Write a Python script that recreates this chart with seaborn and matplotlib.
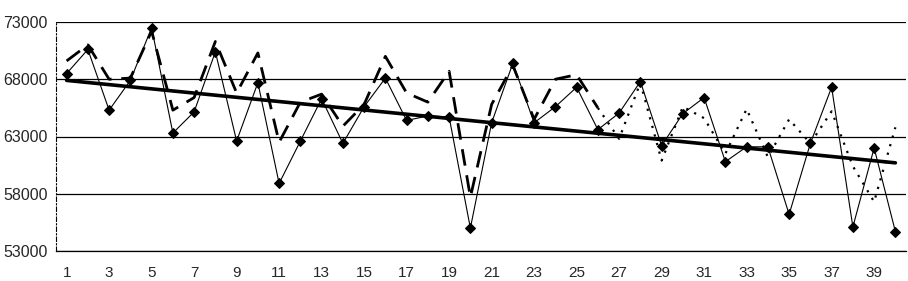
import matplotlib
matplotlib.use("Agg")
import matplotlib.pyplot as plt
import numpy as np
import pandas as pd
import seaborn as sns

# actual series (diamonds), periods 1..40
periods = list(range(1, 41))
actual = [68500, 70600, 65300, 67900, 72500, 63300, 65150, 70400, 62600, 67700,
          58900, 62600, 66300, 62400, 65600, 68100, 64400, 64800, 64700, 55000,
          64200, 69400, 64200, 65600, 67300, 63600, 65050, 67800, 62200, 65000,
          66400, 60800, 62100, 62100, 56200, 62400, 67300, 55100, 62000, 54700]

# fitted model (dashed), periods 1..26
fit_periods = list(range(1, 27))
fitted = [69600, 71000, 68000, 68100, 72200, 65300, 66400, 71300, 66800, 70300,
          62500, 66000, 66700, 63900, 65800, 70000, 66800, 66000, 68700, 57700,
          65800, 69200, 64500, 68000, 68400, 65500]

# forecast (dotted), periods 26..40
fc_periods = list(range(26, 41))
forecast = [65500, 62800, 67700, 60900, 65600, 64600, 61500, 65400, 61200, 64500,
            62400, 65200, 60400, 57300, 63800]

# linear trend end points
trend_periods = [1, 40]
trend = [67900, 60700]

y_ticks = [53000, 58000, 63000, 68000, 73000]
x_labels = list(range(1, 41, 2))

sns.set_style("white")
plt.rcParams["font.family"] = ["Liberation Sans", "DejaVu Sans"]

fig = plt.figure(figsize=(9.08, 2.81), dpi=100)
ax = fig.add_axes([56 / 908, 1 - 251 / 281, 850 / 908, 229 / 281])

for yv in y_ticks:
    ax.axhline(yv, color="black", lw=1.6 if yv == 73000 else 0.9, zorder=0)

sns.lineplot(x=fit_periods, y=fitted, ax=ax, color="black", lw=2.0,
             linestyle=(0, (6, 3.5)), zorder=2)
sns.lineplot(x=fc_periods, y=forecast, ax=ax, color="black", lw=1.6,
             linestyle=(0, (1, 3)), zorder=2)
sns.lineplot(x=trend_periods, y=trend, ax=ax, color="black", lw=2.6, zorder=3)
sns.lineplot(x=periods, y=actual, ax=ax, color="black", lw=0.8,
             marker="D", markersize=5.5, markeredgecolor="black", zorder=4)

ax.set_xlim(0.5, 40.5)
ax.set_ylim(53000, 73000)
ax.set_yticks(y_ticks)
ax.set_yticklabels([str(v) for v in y_ticks], fontsize=11.5)
ax.set_xticks(x_labels)
ax.set_xticklabels([str(v) for v in x_labels], fontsize=11)
ax.set_xticks(np.arange(0.5, 41, 1.0), minor=True)
ax.tick_params(axis="x", which="major", length=0, pad=11)
ax.tick_params(axis="x", which="minor", length=4, width=0.8, direction="out", color="black")
ax.tick_params(axis="y", length=4, width=0.8, direction="out", color="black", pad=2)

for side in ("top", "right"):
    ax.spines[side].set_visible(False)
ax.spines["bottom"].set_color("black")
ax.spines["bottom"].set_linewidth(0.9)
ax.spines["left"].set_color("black")
ax.spines["left"].set_linewidth(0.8)
ax.spines["left"].set_linestyle((0, (4, 2, 1, 2)))
ax.set_xlabel("")
ax.set_ylabel("")

fig.savefig("out.png", dpi=100)
